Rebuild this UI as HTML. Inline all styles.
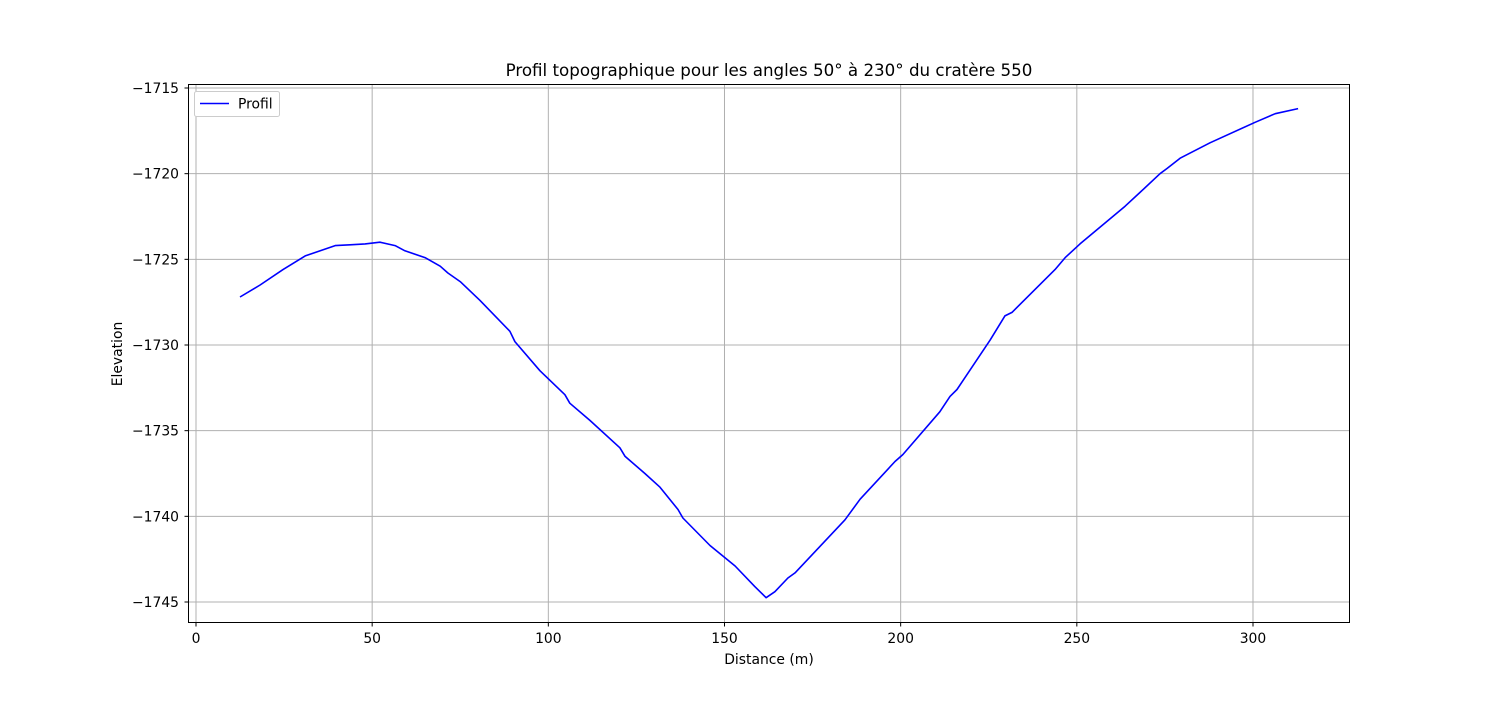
<!DOCTYPE html>
<html><head><meta charset="utf-8"><style>
body{margin:0;background:#fff;font-family:"Liberation Sans","DejaVu Sans",sans-serif}
svg text{font-family:"DejaVu Sans","Liberation Sans",sans-serif;font-size:13.9px;fill:#000}
</style></head><body>
<svg id="chart" width="1500" height="700" xmlns="http://www.w3.org/2000/svg">
<rect width="1500" height="700" fill="#fff"/>
<g id="grid"></g>
<g id="ticks"></g>
<path id="line" fill="none" stroke="#0000ff" stroke-width="1.6" stroke-linejoin="round"/>
<rect x="188.5" y="84.5" width="1161" height="538" fill="none" stroke="#000" stroke-width="1"/>
<text x="769" y="76" text-anchor="middle" style="font-size:16.7px">Profil topographique pour les angles 50° à 230° du cratère 550</text>
<text x="769" y="664" text-anchor="middle">Distance (m)</text>
<text x="122" y="354" text-anchor="middle" transform="rotate(-90 122 354)">Elevation</text>
<g>
<rect x="194.5" y="91.5" width="85" height="25" rx="2" fill="#fff" stroke="#ccc"/>
<line x1="200" y1="103.5" x2="229" y2="103.5" stroke="#0000ff" stroke-width="1.6"/>
<text x="238" y="108.5">Profil</text>
</g>
</svg>
<script>
const xs=[12.5,18.2,24.7,31,39.5,43.7,48,52.2,56.5,59.3,65,69.3,71.5,75,80.6,89.1,90.5,97.6,104.7,106.1,111.8,120.3,121.8,127.4,131.7,136.8,138.2,145.9,153,158.6,161.8,164.3,168,170,184.2,188.5,198.4,200.6,211.1,214,216,225.4,229.6,231.6,243.8,246.7,250.9,263.7,267.9,273.6,275.6,279.3,287.8,300.6,306.3,312.8];
const elev=[-1727.2,-1726.5,-1725.6,-1724.8,-1724.2,-1724.15,-1724.1,-1724.0,-1724.2,-1724.5,-1724.9,-1725.4,-1725.8,-1726.3,-1727.4,-1729.2,-1729.8,-1731.5,-1732.9,-1733.4,-1734.4,-1736,-1736.5,-1737.5,-1738.3,-1739.6,-1740.1,-1741.7,-1742.9,-1744.1,-1744.75,-1744.4,-1743.6,-1743.3,-1740.2,-1739,-1736.8,-1736.4,-1733.9,-1733,-1732.6,-1729.7,-1728.3,-1728.1,-1725.6,-1724.9,-1724.1,-1721.9,-1721.1,-1720,-1719.7,-1719.1,-1718.2,-1717,-1716.5,-1716.2];
const xTicks=[0,50,100,150,200,250,300];
const yTicks=[-1715,-1720,-1725,-1730,-1735,-1740,-1745];
const X=v=>196+3.5233*v, Y=v=>88+17.133*(-1715-v);
const NS="http://www.w3.org/2000/svg";
const grid=document.getElementById('grid'),tk=document.getElementById('ticks');
function mk(tag,attrs,parent){const e=document.createElementNS(NS,tag);for(const k in attrs)e.setAttribute(k,attrs[k]);parent.appendChild(e);return e;}
xTicks.forEach(t=>{const x=X(t);
 const g=mk('line',{x1:x,x2:x,y1:85,y2:622,stroke:'#b0b0b0','stroke-width':1},grid);
 
 
 mk('line',{x1:x,x2:x,y1:623,y2:626.5,stroke:'#000'},tk);
 const l=mk('text',{x:x,y:643,'text-anchor':'middle'},tk);l.textContent=t;
 
 
});
yTicks.forEach(t=>{const y=Y(t);
 const g=mk('line',{x1:189,x2:1349,y1:y,y2:y,stroke:'#b0b0b0','stroke-width':1},grid);
 
 
 mk('line',{x1:184.5,x2:188,y1:y,y2:y,stroke:'#000'},tk);
 const l=mk('text',{x:179,y:y+5,'text-anchor':'end'},tk);l.textContent=String(t).replace('-','\u2212');
 
 
});
document.getElementById('line').setAttribute('d',xs.map((v,i)=>(i?'L':'M')+X(v).toFixed(1)+' '+Y(elev[i]).toFixed(1)).join(' '));
</script>
</body></html>
